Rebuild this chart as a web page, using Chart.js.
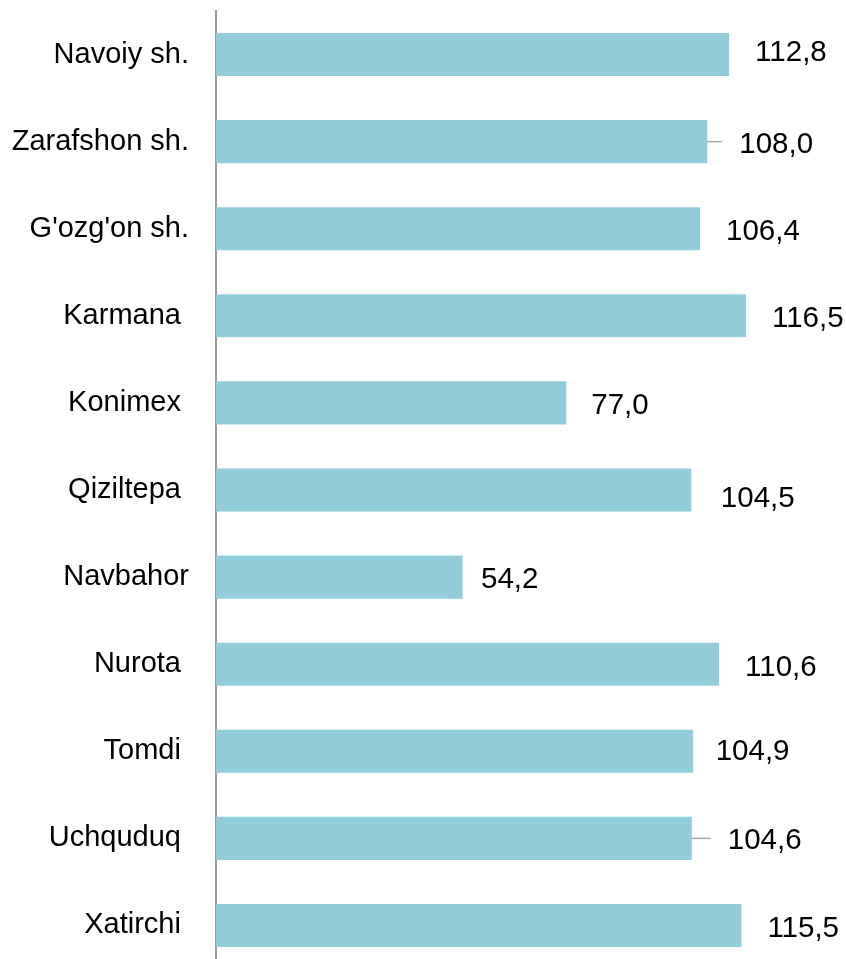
<!DOCTYPE html>
<html>
<head>
<meta charset="utf-8">
<script src="https://cdn.jsdelivr.net/npm/chart.js@4.4.1/dist/chart.umd.min.js"></script>
<style>
    html, body { margin: 0; padding: 0; background: #fff; overflow: hidden; }
    #wrap { width: 846px; height: 969px; position: relative; }
</style>
</head>
<body>
<div id="wrap"><canvas id="barChart"></canvas></div>
<script>
// Districts (trailing spaces kept as in the source labels)
const districts = ['Navoiy sh.', 'Zarafshon sh.', "G'ozg'on sh.", 'Karmana ', 'Konimex ', 'Qiziltepa ',
    'Navbahor', 'Nurota ', 'Tomdi ', 'Uchquduq ', 'Xatirchi '];

// Values, percent
const values = [112.8, 108.0, 106.4, 116.5, 77.0, 104.5, 54.2, 110.6, 104.9, 104.6, 115.5];

// Label nudges (px) for value labels, as placed in the original
const labelDx = [0, 6, 0, 0, -1, 3.5, -7.5, 0, -3.5, 10, 0];
const labelDy = [-4, 1, 1, 1, 0.5, 6.5, 0.5, 1, -2, 0, 1];

const barColor = '#92CDDC';
const fontFamily = 'Arial, "Liberation Sans", sans-serif';

// Draws the value labels next to each bar, with a leader line where the label was moved away
const valueLabels = {
    id: 'valueLabels',
    afterDatasetsDraw(chart) {
        const ctx = chart.ctx;
        const meta = chart.getDatasetMeta(0);
        ctx.save();
        ctx.font = '29.5px ' + fontFamily;
        ctx.fillStyle = '#000';
        ctx.textAlign = 'left';
        ctx.textBaseline = 'alphabetic';
        meta.data.forEach((bar, i) => {
            const txt = values[i].toFixed(1).replace('.', ',');
            const x = bar.x + 26 + labelDx[i];
            const y = bar.y + labelDy[i];
            if (labelDx[i] > 5) {
                ctx.strokeStyle = '#a6a6a6';
                ctx.lineWidth = 1.5;
                ctx.beginPath();
                ctx.moveTo(bar.x, bar.y);
                ctx.lineTo(x - 17, bar.y);
                ctx.stroke();
            }
            ctx.fillText(txt, x, y + 10.5);
        });
        ctx.restore();
    }
};

const ctx = document.getElementById('barChart').getContext('2d');
new Chart(ctx, {
    type: 'bar',
    data: {
        labels: districts,
        datasets: [{
            data: values,
            backgroundColor: barColor,
            borderWidth: 0,
            barPercentage: 0.495,
            categoryPercentage: 1
        }]
    },
    options: {
        indexAxis: 'y',
        responsive: true,
        maintainAspectRatio: false,
        animation: false,
        layout: { padding: { top: 11, right: 0, bottom: 0, left: 0 } },
        plugins: {
            legend: { display: false },
            tooltip: { enabled: false }
        },
        scales: {
            x: {
                display: false,
                min: 0,
                max: 138.5
            },
            y: {
                afterFit(scale) {
                    scale.width = 216;
                    scale.paddingTop = 0;
                    scale.paddingBottom = 0;
                },
                grid: { display: false, drawTicks: false },
                border: { display: true, color: '#999999', width: 2 },
                ticks: {
                    color: '#000',
                    padding: 27,
                    font: { family: fontFamily, size: 29 }
                }
            }
        }
    },
    plugins: [valueLabels]
});
</script>
</body>
</html>
